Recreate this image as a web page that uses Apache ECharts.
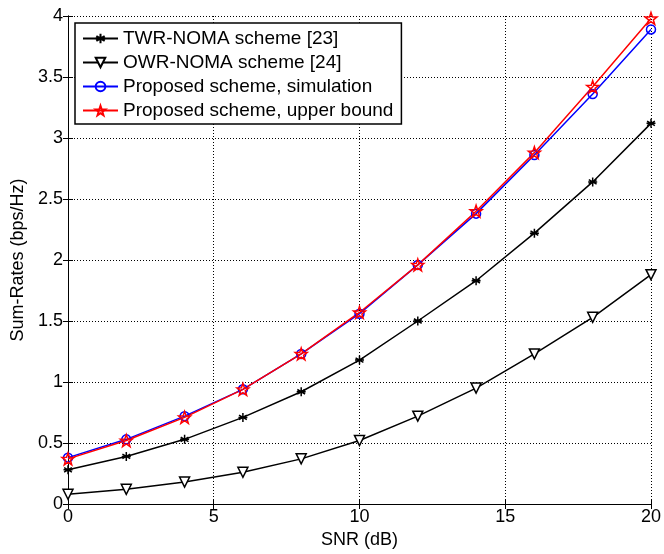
<!DOCTYPE html>
<html><head><meta charset="utf-8">
<script src="https://cdn.jsdelivr.net/npm/echarts@6/dist/echarts.min.js"></script>
<style>html,body{margin:0;padding:0;background:#fff}#c{width:664px;height:554px}</style>
</head><body><div id="c"></div>
<script>
const snr = [0, 2, 4, 6, 8, 10, 12, 14, 16, 18, 20];
const twrNoma = [0.28, 0.39, 0.53, 0.71, 0.92, 1.18, 1.50, 1.83, 2.22, 2.64, 3.12];
const owrNoma = [0.08, 0.12, 0.18, 0.26, 0.37, 0.52, 0.72, 0.95, 1.23, 1.53, 1.88];
const propSim = [0.38, 0.53, 0.72, 0.94, 1.23, 1.56, 1.96, 2.38, 2.86, 3.36, 3.89];
const propUb = [0.37, 0.52, 0.71, 0.94, 1.23, 1.57, 1.96, 2.40, 2.88, 3.42, 3.98];
const seriesNames = ['TWR-NOMA scheme [23]', 'OWR-NOMA scheme [24]', 'Proposed scheme, simulation', 'Proposed scheme, upper bound'];

const pair = (ys) => snr.map((x, i) => [x, ys[i]]);
const asterisk = 'path://M0,-10L0,10M-8.66,-5L8.66,5M-8.66,5L8.66,-5M-10,0L10,0';
const star = 'path://M0,-10L2.35,-3.24L9.51,-3.09L3.8,1.24L5.88,8.09L0,4L-5.88,8.09L-3.8,1.24L-9.51,-3.09L-2.35,-3.24Z';
const font = 'Arial, "Liberation Sans", sans-serif';

const chart = echarts.init(document.getElementById('c'), null, {renderer: 'canvas'});
const axisLine = {show: true, lineStyle: {color: '#000', width: 1}};
const axisTick = {show: true, inside: true, length: 5, lineStyle: {color: '#000'}};
const gridLine = {show: true, lineStyle: {color: '#000', type: [1, 2], width: 1}};
chart.setOption({
  animation: false,
  backgroundColor: '#fff',
  grid: {left: 68, right: 11, top: 16, bottom: 47, containLabel: false},
  legend: {
    orient: 'vertical', left: 75, top: 23,
    data: seriesNames,
    itemWidth: 35, itemHeight: 12, itemGap: 5,
    padding: [6, 8, 4, 7],
    borderColor: '#000', borderWidth: 1.5, backgroundColor: '#fff',
    textStyle: {fontSize: 19, color: '#000', fontFamily: font}
  },
  xAxis: [
    {type: 'value', min: 0, max: 20, interval: 5, name: 'SNR (dB)', nameLocation: 'middle', nameGap: 27,
      nameTextStyle: {fontSize: 18, color: '#000', fontFamily: font},
      axisLabel: {fontSize: 18, color: '#000', fontFamily: font, margin: 4},
      axisLine: axisLine, axisTick: axisTick, splitLine: gridLine},
    {type: 'value', min: 0, max: 20, interval: 5, position: 'top', axisLabel: {show: false},
      axisLine: axisLine, axisTick: axisTick, splitLine: {show: false}}
  ],
  yAxis: [
    {type: 'value', min: 0, max: 4, interval: 0.5, name: 'Sum-Rates (bps/Hz)', nameLocation: 'middle', nameGap: 37,
      nameTextStyle: {fontSize: 18, color: '#000', fontFamily: font},
      axisLabel: {fontSize: 18, color: '#000', fontFamily: font, margin: 5},
      axisLine: axisLine, axisTick: axisTick, splitLine: gridLine},
    {type: 'value', min: 0, max: 4, interval: 0.5, position: 'right', axisLabel: {show: false},
      axisLine: axisLine, axisTick: axisTick, splitLine: {show: false}}
  ],
  series: [
    {name: seriesNames[0], type: 'line', data: pair(twrNoma), symbol: asterisk, symbolSize: 9,
      lineStyle: {color: '#000', width: 1.5}, itemStyle: {color: '#000', borderColor: '#000', borderWidth: 1.5}},
    {name: seriesNames[1], type: 'line', data: pair(owrNoma), symbol: 'triangle', symbolRotate: 180, symbolSize: 10,
      lineStyle: {color: '#000', width: 1.5}, itemStyle: {color: '#fff', borderColor: '#000', borderWidth: 1.5}},
    {name: seriesNames[2], type: 'line', data: pair(propSim), symbol: 'circle', symbolSize: 9,
      lineStyle: {color: '#0000ff', width: 1.5}, itemStyle: {color: 'rgba(255,255,255,0)', borderColor: '#0000ff', borderWidth: 1.5}},
    {name: seriesNames[3], type: 'line', data: pair(propUb), symbol: star, symbolSize: 12,
      lineStyle: {color: '#ff0000', width: 1.5}, itemStyle: {color: 'rgba(255,255,255,0)', borderColor: '#ff0000', borderWidth: 1.5}}
  ]
});
</script></body></html>
